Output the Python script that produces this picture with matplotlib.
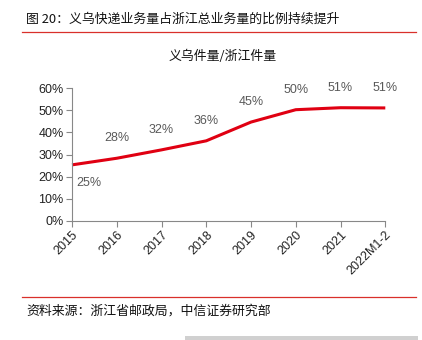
import matplotlib
matplotlib.use('Agg')
import matplotlib.pyplot as plt
from matplotlib.lines import Line2D
from matplotlib.patches import Rectangle

plt.rcParams['font.family'] = ['Liberation Sans', 'Noto Sans CJK SC', 'DejaVu Sans']

# data
years = ['2015', '2016', '2017', '2018', '2019', '2020', '2021', '2022M1-2']
share = [25.3, 28.3, 32.1, 36.2, 44.7, 50.3, 51.2, 51.1]
labels = ['25%', '28%', '32%', '36%', '45%', '50%', '51%', '51%']
yticks = [0, 10, 20, 30, 40, 50, 60]

W, H = 422, 340
fig = plt.figure(figsize=(W / 100, H / 100), dpi=100)
ax = fig.add_axes([72 / W, 1 - 220.7 / H, (385.3 - 72) / W, (220.7 - 88.3) / H])

x = list(range(len(years)))
ax.plot(x, share, color='#E00012', lw=2.2, solid_capstyle='butt', clip_on=False)

# data labels (2015 below the line, rest above)
for i, (v, t) in enumerate(zip(share, labels)):
    if i == 0:
        ax.annotate(t, (i, v), xytext=(3, -9), textcoords='offset points',
                    ha='left', va='top', fontsize=9, color='#595959')
    else:
        ax.annotate(t, (i, v), xytext=(0, 10), textcoords='offset points',
                    ha='center', va='bottom', fontsize=9, color='#595959')

ax.set_xlim(0, len(years) - 1)
ax.set_ylim(0, 60)
ax.set_yticks(yticks)
ax.set_yticklabels([str(t) + '%' for t in yticks], fontsize=9, color='#222222')
ax.set_xticks(x)
ax.set_xticklabels(years, rotation=45, ha='right', rotation_mode='anchor', fontsize=9, color='#222222')
for s in ['top', 'right']:
    ax.spines[s].set_visible(False)
for s in ['left', 'bottom']:
    ax.spines[s].set_color('#888888')
    ax.spines[s].set_linewidth(0.8)
ax.tick_params(axis='both', color='#888888', length=4, width=0.8)
ax.tick_params(axis='y', pad=2)
ax.tick_params(axis='x', pad=2)

# header / footer
cjk = ['Noto Sans CJK SC', 'DejaVu Sans']
fig.text(26 / W, 1 - 19 / H, '图 20：义乌快递业务量占浙江总业务量的比例持续提升',
         fontsize=9.3, family=cjk, va='center', ha='left', color='#111111')
fig.add_artist(Line2D([22 / W, 416 / W], [1 - 32 / H, 1 - 32 / H], color='#D9302B', lw=0.9))
fig.text(223 / W, 1 - 56 / H, '义乌件量/浙江件量', fontsize=9.3, family=cjk,
         va='center', ha='center', color='#111111')
fig.add_artist(Line2D([22 / W, 416 / W], [1 - 297 / H, 1 - 297 / H], color='#D9302B', lw=0.9))
fig.text(26 / W, 1 - 311 / H, '资料来源：浙江省邮政局，中信证券研究部', fontsize=9.3, family=cjk,
         va='center', ha='left', color='#111111')
fig.add_artist(Rectangle((185 / W, 0), (418 - 185) / W, 4 / H, transform=fig.transFigure,
                         color='#D0D0D0', lw=0))

fig.savefig('out.png', dpi=100)
